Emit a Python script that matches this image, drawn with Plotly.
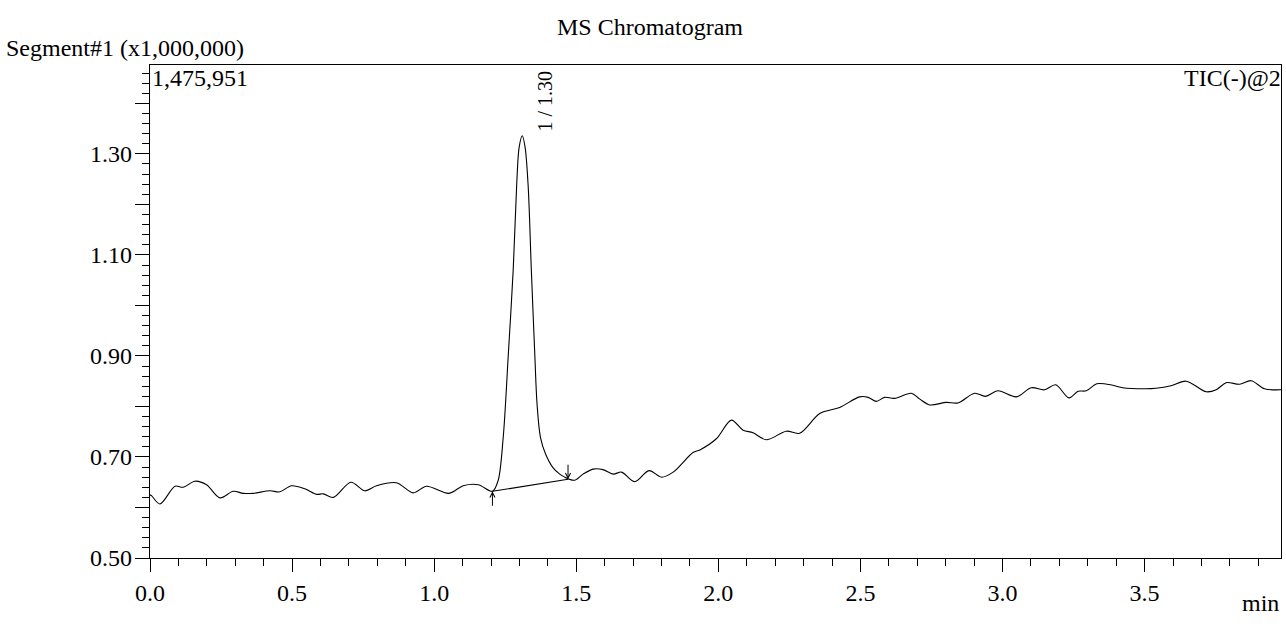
import plotly.graph_objects as go

# Retention time (min) and intensity (x1,000,000)
time_min = [0.000, 0.006, 0.035, 0.088, 0.117, 0.158, 0.199, 0.246, 0.293, 0.328,
            0.363, 0.422, 0.457, 0.498, 0.545, 0.586, 0.610, 0.645, 0.707, 0.756,
            0.797, 0.867, 0.926, 0.973, 1.052, 1.102, 1.155, 1.205, 1.225, 1.243,
            1.261, 1.278, 1.290, 1.299, 1.310, 1.320, 1.331, 1.342, 1.354, 1.362,
            1.374, 1.392, 1.418, 1.442, 1.460, 1.475, 1.495, 1.524, 1.559, 1.594,
            1.630, 1.659, 1.706, 1.756, 1.800, 1.841, 1.911, 1.935, 1.993, 2.046,
            2.087, 2.122, 2.169, 2.239, 2.286, 2.357, 2.427, 2.497, 2.527, 2.556,
            2.585, 2.620, 2.679, 2.708, 2.744, 2.802, 2.843, 2.902, 2.940, 2.984,
            3.049, 3.101, 3.148, 3.187, 3.234, 3.266, 3.295, 3.332, 3.388, 3.423,
            3.505, 3.540, 3.593, 3.646, 3.717, 3.752, 3.787, 3.834, 3.875, 3.922,
            3.980]
intensity = [0.625, 0.623, 0.607, 0.642, 0.640, 0.652, 0.645, 0.619, 0.632, 0.628,
             0.628, 0.633, 0.631, 0.643, 0.637, 0.626, 0.627, 0.620, 0.650, 0.633,
             0.643, 0.649, 0.629, 0.642, 0.628, 0.643, 0.645, 0.632, 0.653, 0.739,
             0.904, 1.069, 1.234, 1.313, 1.336, 1.313, 1.234, 1.069, 0.904, 0.805,
             0.739, 0.706, 0.679, 0.666, 0.660, 0.656, 0.654, 0.666, 0.676, 0.675,
             0.666, 0.670, 0.651, 0.673, 0.660, 0.670, 0.709, 0.714, 0.736, 0.773,
             0.753, 0.748, 0.734, 0.751, 0.747, 0.786, 0.798, 0.819, 0.818, 0.810,
             0.818, 0.816, 0.826, 0.815, 0.803, 0.808, 0.807, 0.826, 0.820, 0.831,
             0.819, 0.837, 0.833, 0.843, 0.817, 0.830, 0.831, 0.845, 0.842, 0.837,
             0.835, 0.836, 0.841, 0.850, 0.829, 0.833, 0.847, 0.844, 0.851, 0.835,
             0.833]

# Peak integration baseline (start, end)
baseline_t = [1.205, 1.471]
baseline_v = [0.632, 0.656]

peak_label = "1 / 1.30"
peak_t = 1.389
peak_label_v = 1.405

x_tickvals = [0.0, 0.5, 1.0, 1.5, 2.0, 2.5, 3.0, 3.5]
x_ticktext = ["0.0", "0.5", "1.0", "1.5", "2.0", "2.5", "3.0", "3.5"]
y_tickvals = [0.5, 0.6, 0.7, 0.8, 0.9, 1.0, 1.1, 1.2, 1.3, 1.4]
y_ticktext = ["0.50", "", "0.70", "", "0.90", "", "1.10", "", "1.30", ""]
y_max = 1.475951

FONT = "Liberation Serif, Times New Roman, serif"
FS = 24

fig = go.Figure()
fig.add_trace(go.Scatter(x=time_min, y=intensity, mode="lines",
                         line=dict(color="black", width=1.1, shape="spline", smoothing=0.9),
                         hoverinfo="x+y", showlegend=False))
fig.add_trace(go.Scatter(x=baseline_t, y=baseline_v, mode="lines",
                         line=dict(color="black", width=1.1), showlegend=False))

# arrows marking baseline start / end
fig.add_annotation(x=baseline_t[0], y=baseline_v[0], ax=0, ay=16, axref="pixel", ayref="pixel",
                   showarrow=True, arrowhead=5, arrowsize=1, arrowwidth=1, arrowcolor="black", text="")
fig.add_annotation(x=baseline_t[1], y=baseline_v[1], ax=0, ay=-16, axref="pixel", ayref="pixel",
                   showarrow=True, arrowhead=5, arrowsize=1, arrowwidth=1, arrowcolor="black", text="")

fig.add_annotation(x=peak_t, y=peak_label_v, text=peak_label, textangle=-90, showarrow=False,
                   font=dict(family=FONT, size=20, color="black"))

fig.add_annotation(xref="paper", yref="paper", x=0.442, y=1.077, xanchor="center", yanchor="middle",
                   text="MS Chromatogram",
                   showarrow=False, font=dict(family=FONT, size=FS, color="black"))
fig.add_annotation(xref="paper", yref="paper", x=-0.129, y=1.034, xanchor="left", yanchor="middle",
                   text="Segment#1 (x1,000,000)", showarrow=False,
                   font=dict(family=FONT, size=FS, color="black"))
fig.add_annotation(xref="paper", yref="paper", x=0.0, y=1.005, xanchor="left", yanchor="top",
                   text="1,475,951", showarrow=False, font=dict(family=FONT, size=FS, color="black"))
fig.add_annotation(xref="paper", yref="paper", x=1.002, y=1.005, xanchor="right", yanchor="top",
                   text="TIC(-)@2", showarrow=False, font=dict(family=FONT, size=FS, color="black"))
fig.add_annotation(xref="paper", yref="paper", x=1.0, y=-0.091, xanchor="right", yanchor="middle",
                   text="min", showarrow=False, font=dict(family=FONT, size=FS, color="black"))

fig.update_layout(
    width=1286, height=627,
    margin=dict(l=150, r=5, t=65, b=69),
    paper_bgcolor="white", plot_bgcolor="white",
    font=dict(family=FONT, size=FS, color="black"),
    showlegend=False,
)
fig.update_xaxes(range=[0, 3.98], showgrid=False, zeroline=False,
                 showline=True, linecolor="black", linewidth=1.2, mirror=True,
                 tickmode="array", tickvals=x_tickvals, ticktext=x_ticktext,
                 ticks="outside", ticklen=13, tickcolor="black", tickwidth=1,
                 tickfont=dict(family=FONT, size=FS, color="black"),
                 minor=dict(dtick=0.1, ticks="outside", ticklen=7, tickcolor="black", tickwidth=1))
fig.update_yaxes(range=[0.5, y_max], showgrid=False, zeroline=False,
                 showline=True, linecolor="black", linewidth=1.2, mirror=True,
                 tickmode="array", tickvals=y_tickvals, ticktext=y_ticktext,
                 ticks="outside", ticklen=14, tickcolor="black", tickwidth=1,
                 ticklabelstandoff=-2,
                 tickfont=dict(family=FONT, size=FS, color="black"),
                 minor=dict(dtick=0.02, tick0=0.5, ticks="outside", ticklen=7, tickcolor="black", tickwidth=1))

fig.write_html("out.html", config={"displayModeBar": False},
               post_script="document.body.style.margin='0';document.body.style.overflow='hidden';")
